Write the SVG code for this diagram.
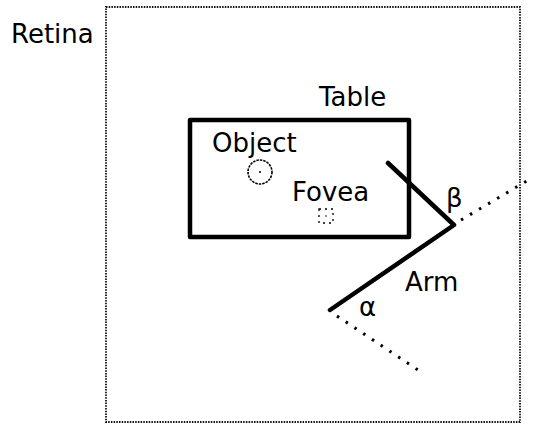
<svg xmlns="http://www.w3.org/2000/svg" width="544" height="425" viewBox="0 0 544 425">
<style>
text{font-family:"DejaVu Sans","Liberation Sans",sans-serif;font-size:26px;fill:#000}
.dot{fill:none;stroke:#111;stroke-width:1.8;stroke-dasharray:1.5 1.2}
.thick{fill:none;stroke:#000;stroke-width:4.5;stroke-linecap:round;stroke-linejoin:round}
.sparse{fill:none;stroke:#000;stroke-width:3;stroke-dasharray:2.5 8}
</style>
<rect width="544" height="425" fill="#fff"/>
<g id="retina">
<rect class="dot" x="106" y="7" width="414" height="415"/>
<text x="11" y="43">Retina</text>
</g>
<g id="table">
<rect class="thick" x="190" y="120" width="219" height="117"/>
<text x="319" y="106">Table</text>
</g>
<g id="object">
<circle cx="260" cy="172" r="12" fill="none" stroke="#000" stroke-width="1.6" stroke-dasharray="2.5 1"/>
<circle cx="260" cy="172" r="1" fill="#000"/>
<text x="212" y="152">Object</text>
</g>
<g id="fovea">
<rect x="319" y="209" width="14" height="14" fill="none" stroke="#000" stroke-width="1.3" stroke-dasharray="2 4"/>
<circle cx="326" cy="216" r="0.8" fill="#000"/>
<text x="292" y="201">Fovea</text>
</g>
<g id="connectors">
<polyline class="thick" points="388,163 454,225 330,310"/>
<line class="sparse" x1="461" y1="220" x2="530" y2="179"/>
<line class="sparse" x1="337" y1="316" x2="418" y2="370"/>
</g>
<g id="labels">
<text x="446" y="207">β</text>
<text x="405" y="291">Arm</text>
<text x="359" y="316">α</text>
</g>
</svg>
